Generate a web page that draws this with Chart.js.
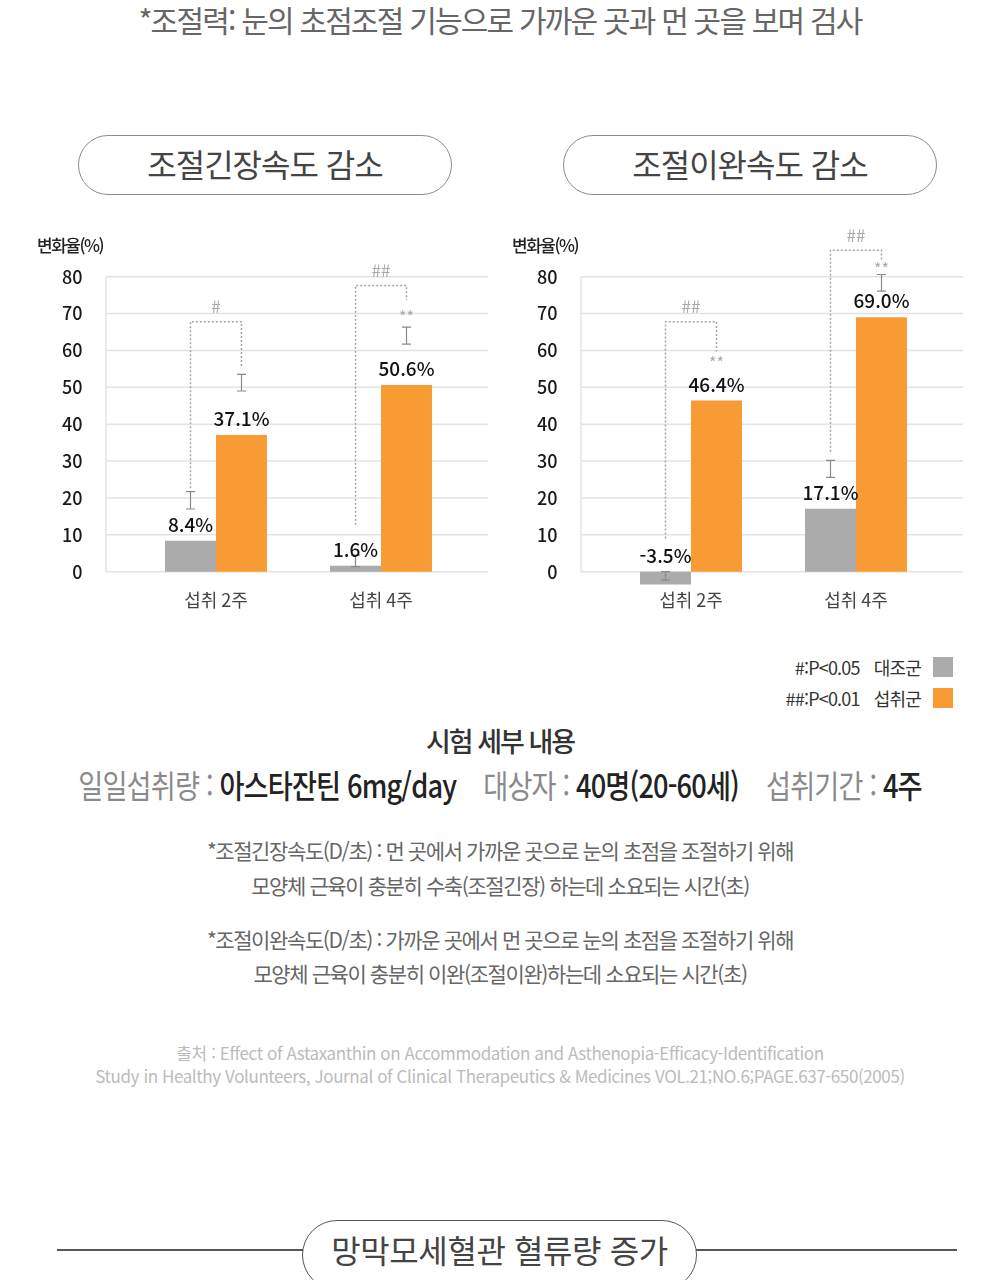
<!DOCTYPE html>
<html lang="ko">
<head>
<meta charset="utf-8">
<script src="https://cdn.jsdelivr.net/npm/chart.js@4.4.1/dist/chart.umd.min.js"></script>
<style>
  body { margin: 0; width: 1000px; height: 1280px; position: relative; overflow: hidden; background: #fff;
         font-family: "Noto Sans CJK KR", "Noto Sans", sans-serif; }
  .abs { position: absolute; white-space: nowrap; }
  .center { left: 0; width: 1000px; text-align: center; }
  .pill { position: absolute; box-sizing: border-box; border: 1.5px solid #8c8c8c; border-radius: 30px;
          display: flex; align-items: center; justify-content: center; color: #444; background: #fff; }
  canvas { position: absolute; top: 200px; }
  .gray { color: #8a8a8a; }
  .dark { color: #222; font-weight: 500; }
  #legend { position: absolute; right: 47px; top: 651px; font-size: 18px; color: #333; letter-spacing: -0.8px; }
  #legend .row { display: flex; align-items: center; justify-content: flex-end; height: 31px; }
  #legend .sq { width: 20px; height: 20px; margin-left: 12px; }
  #legend .nm { margin-left: 14px; }
</style>
</head>
<body>
<div class="abs center" style="top:-3px;font-size:30px;color:#666;letter-spacing:-1.8px;">*조절력: 눈의 초점조절 기능으로 가까운 곳과 먼 곳을 보며 검사</div>

<div class="pill" style="left:78px;top:135px;width:374px;height:60px;font-size:32px;letter-spacing:-1px;padding-bottom:4px;">조절긴장속도 감소</div>
<div class="pill" style="left:563px;top:135px;width:374px;height:60px;font-size:32px;letter-spacing:-1px;padding-bottom:4px;">조절이완속도 감소</div>

<canvas id="tension" width="500" height="420" style="left:0px"></canvas>
<canvas id="relax" width="500" height="420" style="left:475px"></canvas>

<div class="abs" style="left:37px;top:232px;font-size:17px;font-weight:500;color:#222;letter-spacing:-1.5px;">변화율(%)</div>
<div class="abs" style="left:512px;top:232px;font-size:17px;font-weight:500;color:#222;letter-spacing:-1.5px;">변화율(%)</div>

<div id="legend"></div>

<div class="abs center" style="top:721px;font-size:27px;font-weight:500;color:#333;letter-spacing:-2px;">시험 세부 내용</div>
<div class="abs center" style="top:761px;font-size:32px;letter-spacing:-1px;transform:scaleX(0.85);">
  <span class="gray">일일섭취량 : </span><span class="dark">아스타잔틴 6mg/day</span>
  &nbsp;&nbsp;&nbsp;<span class="gray">대상자 : </span><span class="dark">40명(20-60세)</span>
  &nbsp;&nbsp;&nbsp;<span class="gray">섭취기간 : </span><span class="dark">4주</span>
</div>

<div class="abs center" style="top:835px;font-size:21px;color:#666;letter-spacing:-1.4px;">*조절긴장속도(D/초) : 먼 곳에서 가까운 곳으로 눈의 초점을 조절하기 위해</div>
<div class="abs center" style="top:870px;font-size:21px;color:#666;letter-spacing:-1.4px;">모양체 근육이 충분히 수축(조절긴장) 하는데 소요되는 시간(초)</div>
<div class="abs center" style="top:924px;font-size:21px;color:#666;letter-spacing:-1.4px;">*조절이완속도(D/초) : 가까운 곳에서 먼 곳으로 눈의 초점을 조절하기 위해</div>
<div class="abs center" style="top:958px;font-size:21px;color:#666;letter-spacing:-1.4px;">모양체 근육이 충분히 이완(조절이완)하는데 소요되는 시간(초)</div>

<div class="abs center" style="top:1040px;font-size:17px;color:#bbb;letter-spacing:-0.4px;">출처 : Effect of Astaxanthin on Accommodation and Asthenopia-Efficacy-Identification</div>
<div class="abs center" style="top:1063px;font-size:17px;color:#bbb;letter-spacing:-0.4px;">Study in Healthy Volunteers, Journal of Clinical Therapeutics &amp; Medicines VOL.21;NO.6;PAGE.637-650(2005)</div>

<div class="abs" style="left:57px;top:1249px;width:900px;height:2px;background:#555;"></div>
<div class="pill" style="left:302px;top:1220px;width:395px;height:70px;border-radius:35px;border-color:#555;font-size:32px;letter-spacing:-0.4px;padding-bottom:12px;">망막모세혈관 혈류량 증가</div>

<script>
const categories = ['섭취 2주', '섭취 4주'];
const seriesNames = ['대조군', '섭취군'];
const seriesColors = ['#ababab', '#f89b35'];
const sigNotes = ['#:P<0.05', '##:P<0.01'];
const yTicks = [0, 10, 20, 30, 40, 50, 60, 70, 80];

// 조절긴장속도 감소
const tensionControl = [8.4, 1.6];
const tensionTreat = [37.1, 50.6];
const tensionControlErr = [[17.0, 21.7], [1.4, 4.5]];
const tensionTreatErr = [[49.0, 53.5], [61.7, 66.3]];
const tensionBracketFrom = [22.6, 12.7];
const tensionBracketTop = [67.8, 77.6];
const tensionBracketTo = [55.6, 73.7];
const tensionHash = ['#', '##'];
const tensionStars = [null, 69.8];

// 조절이완속도 감소
const relaxControl = [-3.5, 17.1];
const relaxTreat = [46.4, 69.0];
const relaxControlErr = [[-2.3, 0], [25.6, 30.2]];
const relaxTreatErr = [null, [76.1, 80.6]];
const relaxBracketFrom = [9.0, 32.5];
const relaxBracketTop = [67.8, 87.2];
const relaxBracketTo = [59.7, 84.5];
const relaxHash = ['##', '##'];
const relaxStars = [57.4, 83.0];

const FONT = '"Noto Sans CJK KR", "Noto Sans", sans-serif';

// grid, error bars, value labels and significance brackets
const decor = {
  id: 'decor',
  beforeDatasetsDraw(chart) {
    const {ctx, chartArea: a, scales: {y}} = chart;
    const x0 = a.left - 27.5, x1 = a.right + 24.5;
    ctx.save();
    ctx.strokeStyle = '#e3e3e3';
    ctx.lineWidth = 1.5;
    y.ticks.forEach(t => {
      const py = y.getPixelForValue(t.value);
      ctx.beginPath(); ctx.moveTo(x0, py); ctx.lineTo(x1, py); ctx.stroke();
    });
    ctx.beginPath();
    ctx.moveTo(x0, y.getPixelForValue(yTicks[yTicks.length - 1]));
    ctx.lineTo(x0, y.getPixelForValue(0));
    ctx.stroke();
    ctx.restore();
  },
  afterDatasetsDraw(chart, args, o) {
    const {ctx, scales: {y}} = chart;
    const bars = chart.data.datasets.map((d, i) => chart.getDatasetMeta(i).data);
    ctx.save();
    // error bars
    ctx.strokeStyle = '#8a8a8a';
    ctx.lineWidth = 1.2;
    o.errs.forEach((errs, i) => errs.forEach((e, j) => {
      if (!e) return;
      const x = bars[i][j].x, lo = y.getPixelForValue(e[0]), hi = y.getPixelForValue(e[1]);
      ctx.beginPath();
      ctx.moveTo(x, lo); ctx.lineTo(x, hi);
      ctx.moveTo(x - 4.5, lo); ctx.lineTo(x + 4.5, lo);
      ctx.moveTo(x - 4.5, hi); ctx.lineTo(x + 4.5, hi);
      ctx.stroke();
    }));
    // value labels
    ctx.fillStyle = '#111';
    ctx.font = '500 19px ' + FONT;
    ctx.textAlign = 'center';
    ctx.textBaseline = 'middle';
    chart.data.datasets.forEach((d, i) => d.data.forEach((v, j) => {
      const top = y.getPixelForValue(Math.max(v, 0));
      ctx.fillText(v.toFixed(1) + '%', bars[i][j].x, top - 16);
    }));
    // brackets
    ctx.strokeStyle = '#a3a3a3';
    ctx.lineWidth = 1.5;
    ctx.setLineDash([2, 2]);
    categories.forEach((c, j) => {
      const lx = bars[0][j].x, rx = bars[1][j].x, ty = y.getPixelForValue(o.top[j]);
      ctx.beginPath();
      ctx.moveTo(lx, y.getPixelForValue(o.from[j]));
      ctx.lineTo(lx, ty); ctx.lineTo(rx, ty);
      ctx.lineTo(rx, y.getPixelForValue(o.to[j]));
      ctx.stroke();
      ctx.fillStyle = '#a8a8a8';
      ctx.font = '17px ' + FONT;
      ctx.fillText(o.hash[j], (lx + rx) / 2, ty - 15);
      if (o.stars[j] != null) {
        ctx.font = '16px ' + FONT;
        ctx.fillText('**', rx, y.getPixelForValue(o.stars[j]) + 3);
      }
    });
    ctx.restore();
  }
};

function makeChart(id, control, treat, deco) {
  return new Chart(document.getElementById(id), {
    type: 'bar',
    data: {
      labels: categories,
      datasets: [
        { label: seriesNames[0], data: control, backgroundColor: seriesColors[0] },
        { label: seriesNames[1], data: treat, backgroundColor: seriesColors[1] }
      ]
    },
    options: {
      responsive: false,
      animation: false,
      devicePixelRatio: 1,
      categoryPercentage: 0.618,
      barPercentage: 1,
      layout: { padding: { top: 76.7, right: 36.5, bottom: 3.55, left: 0 } },
      plugins: { legend: { display: false }, tooltip: { enabled: false }, decor: deco },
      scales: {
        x: {
          grid: { display: false, drawTicks: false }, border: { display: false },
          ticks: { color: '#444', font: { family: FONT, size: 18 }, padding: 3 },
          afterFit: s => { s.height = 30; }
        },
        y: {
          min: -4, max: 80,
          // tick length keeps the labels clear of the plot without adding vertical padding
          grid: { display: false, drawTicks: true, tickLength: 51 }, border: { display: false },
          ticks: { color: '#1a1a1a', font: { family: FONT, size: 18, weight: '500' }, padding: 0 },
          afterBuildTicks: s => { s.ticks = yTicks.map(v => ({ value: v })); },
          afterFit: s => { s.width = 133.5; }
        }
      }
    },
    plugins: [decor]
  });
}

makeChart('tension', tensionControl, tensionTreat, {
  errs: [tensionControlErr, tensionTreatErr],
  from: tensionBracketFrom, top: tensionBracketTop, to: tensionBracketTo,
  hash: tensionHash, stars: tensionStars
});
makeChart('relax', relaxControl, relaxTreat, {
  errs: [relaxControlErr, relaxTreatErr],
  from: relaxBracketFrom, top: relaxBracketTop, to: relaxBracketTo,
  hash: relaxHash, stars: relaxStars
});

// legend built from the series
const legend = document.getElementById('legend');
seriesNames.forEach((n, i) => {
  const row = document.createElement('div');
  row.className = 'row';
  row.innerHTML = '<span>' + sigNotes[i].replace('<', '&lt;') + '</span><span class="nm">' + n +
    '</span><span class="sq" style="background:' + seriesColors[i] + '"></span>';
  legend.appendChild(row);
});
</script>
</body>
</html>
